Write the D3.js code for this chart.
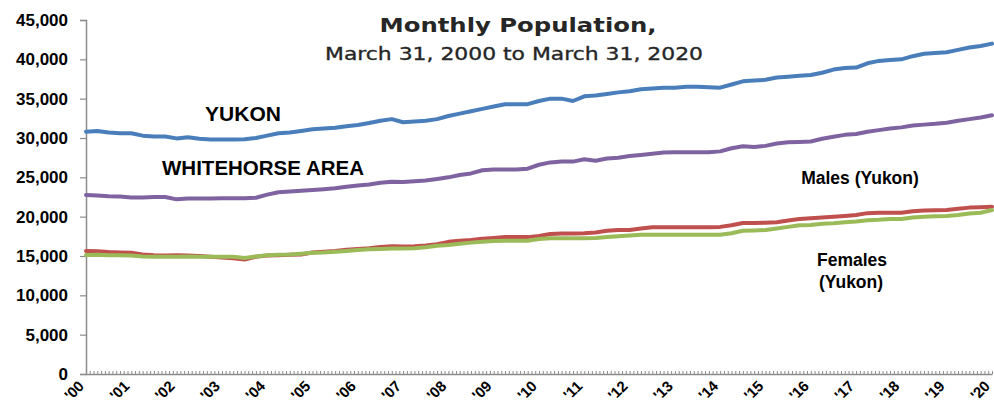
<!DOCTYPE html>
<html><head><meta charset="utf-8">
<script src="https://cdn.jsdelivr.net/npm/d3@7"></script>
<style>body{margin:0;background:#fff}svg{display:block}</style>
</head><body>
<svg id="chart" width="994" height="408"></svg>
<script>
// Quarterly readings (Mar, Jun, Sep, Dec of each year), Mar 2000 .. Mar 2020
const yukon = [
  30800,30900,30700,30600, 30600,30300,30200,30200, 29950,30100,29900,29800,
  29800,29800,29850,30000, 30300,30600,30700,30900, 31100,31200,31300,31500,
  31650,31900,32200,32400, 32000,32100,32200,32400, 32800,33100,33400,33700,
  34000,34300,34300,34300, 34700,35000,35000,34700, 35300,35400,35600,35800,
  35950,36200,36300,36400, 36400,36500,36500,36450, 36400,36800,37200,37300,
  37400,37700,37800,37900, 38000,38300,38700,38900, 38950,39500,39800,39900,
  40000,40400,40700,40800, 40900,41200,41500,41700, 42000];
const whitehorse = [
  22750,22700,22600,22550, 22450,22450,22500,22500, 22200,22300,22300,22300,
  22330,22330,22330,22400, 22800,23100,23200,23300, 23400,23500,23600,23800,
  23950,24100,24300,24450, 24400,24500,24600,24800, 25000,25300,25500,25900,
  26000,26000,26000,26100, 26600,26900,27000,27000, 27300,27100,27400,27500,
  27700,27850,28000,28150, 28200,28200,28200,28200, 28300,28700,28950,28850,
  29000,29300,29450,29500, 29550,29900,30150,30400, 30500,30800,31000,31200,
  31350,31600,31700,31800, 31950,32200,32400,32600, 32900];
const males = [
  15630,15600,15500,15450, 15400,15200,15100,15050, 15100,15050,15000,14900,
  14800,14700,14550,14900, 15050,15100,15150,15200, 15450,15550,15650,15800,
  15900,16000,16150,16250, 16200,16250,16350,16500, 16800,16950,17050,17200,
  17300,17400,17400,17400, 17550,17800,17850,17850, 17900,18000,18200,18300,
  18300,18500,18650,18650, 18650,18650,18650,18650, 18700,18900,19200,19200,
  19230,19300,19500,19700, 19800,19900,20000,20100, 20200,20450,20500,20500,
  20500,20700,20780,20800, 20850,21000,21150,21200, 21270];
const females = [
  15120,15150,15100,15100, 15050,14950,14900,14900, 14900,14950,14900,14900,
  14910,14900,14750,14950, 15100,15150,15200,15300, 15400,15450,15550,15650,
  15750,15850,15900,15950, 15950,16000,16100,16300, 16400,16550,16700,16800,
  16900,16950,16950,16950, 17150,17250,17250,17250, 17250,17300,17400,17500,
  17600,17700,17700,17700, 17700,17700,17700,17700, 17700,17900,18200,18250,
  18300,18500,18700,18900, 18950,19100,19150,19300, 19400,19550,19600,19700,
  19700,19900,20000,20050, 20080,20200,20400,20500, 20840];
const yearLabels = ["'00","'01","'02","'03","'04","'05","'06","'07","'08","'09","'10",
  "'11","'12","'13","'14","'15","'16","'17","'18","'19","'20"];
const yTicks = [0,5000,10000,15000,20000,25000,30000,35000,40000,45000];

const svg = d3.select("#chart");
const x = d3.scaleLinear().domain([0, 240]).range([86, 992]);
const y = d3.scaleLinear().domain([0, 45000]).range([374, 20]);
const axisColor = "#8c8c8c";

// month index of each quarterly reading
const monthIdx = yukon.map((d, i) => i * 3);

// y axis
const yAxis = svg.append("g").attr("transform", "translate(86,0)")
  .call(d3.axisLeft(y).tickValues(yTicks).tickFormat(d3.format(",")).tickSize(6).tickPadding(12));
yAxis.select(".domain").attr("stroke", axisColor).attr("stroke-width", 1.5);
yAxis.selectAll(".tick line").attr("stroke", axisColor).attr("stroke-width", 1.2);
yAxis.selectAll("text").attr("font-family", "Liberation Sans, Arial, sans-serif")
  .attr("font-weight", "bold").attr("font-size", 17).attr("fill", "#000");

// x axis with monthly minor ticks pointing inward
const xAxis = svg.append("g").attr("transform", "translate(0,374)")
  .call(d3.axisBottom(x).tickValues(d3.range(0, 241)).tickSize(-3).tickSizeOuter(0).tickFormat(""));
xAxis.select(".domain").attr("stroke", axisColor).attr("stroke-width", 1.5);
xAxis.selectAll(".tick line").attr("stroke", axisColor).attr("stroke-width", 1);

// year labels
svg.append("g").selectAll("text").data(yearLabels).join("text")
  .attr("transform", (d, i) => `translate(${x(i * 12) - 1},${387}) rotate(-45)`)
  .attr("text-anchor", "end")
  .attr("font-family", "Liberation Sans, Arial, sans-serif")
  .attr("font-weight", "bold").attr("font-size", 15).attr("fill", "#000")
  .text(d => d);

// lines
const series = [
  {vals: yukon, color: "#4a7ebb"},
  {vals: whitehorse, color: "#7f63a1"},
  {vals: males, color: "#c0504d"},
  {vals: females, color: "#9bbb59"}
];
const line = d3.line().x((d, i) => x(monthIdx[i])).y(d => y(d));
svg.append("g").selectAll("path").data(series).join("path")
  .attr("d", s => line(s.vals))
  .attr("fill", "none").attr("stroke", s => s.color)
  .attr("stroke-width", 4).attr("stroke-linejoin", "round").attr("stroke-linecap", "round");

// title
svg.append("text").attr("x", 518).attr("y", 32).attr("text-anchor", "middle")
  .attr("font-family", "DejaVu Sans, sans-serif").attr("font-weight", "bold")
  .attr("font-size", 19.5).attr("fill", "#262626")
  .attr("textLength", 277).attr("lengthAdjust", "spacingAndGlyphs")
  .text("Monthly Population,");
svg.append("text").attr("x", 514).attr("y", 60).attr("text-anchor", "middle")
  .attr("font-family", "DejaVu Sans, sans-serif")
  .attr("font-size", 18).attr("fill", "#262626")
  .attr("stroke", "#262626").attr("stroke-width", 0.35)
  .attr("textLength", 378).attr("lengthAdjust", "spacingAndGlyphs")
  .text("March 31, 2000 to March 31, 2020");

// series labels
const lab = (t, xx, yy, fs) => svg.append("text").attr("x", xx).attr("y", yy)
  .attr("text-anchor", "middle").attr("font-family", "Liberation Sans, Arial, sans-serif")
  .attr("font-weight", "bold").attr("font-size", fs).attr("fill", "#000").text(t);
lab("YUKON", 243, 121, 21);
lab("WHITEHORSE AREA", 263, 175, 20.5);
lab("Males (Yukon)", 860, 184, 17.5);
lab("Females", 852, 266, 17.5);
lab("(Yukon)", 851, 288, 17.5);
</script>
</body></html>
